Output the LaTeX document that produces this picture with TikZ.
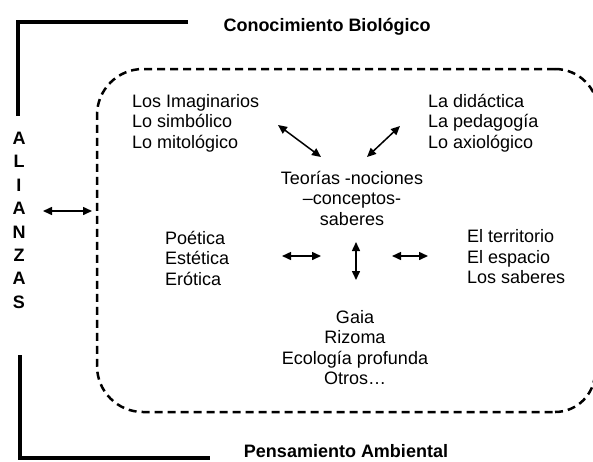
\documentclass[tikz,border=0pt]{standalone}
\usepackage{fontspec}
\setmainfont{Liberation Sans}
\usepackage{tikz}
\usetikzlibrary{arrows.meta, positioning}
\tikzstyle{arrow}    = [line width=1.5pt,{Triangle[length=9pt,width=8pt]}-{Triangle[length=9pt,width=8pt]}]
\tikzstyle{bracket}  = [line width=3.5pt]
\tikzstyle{boundary} = [line width=2.5pt,dash pattern=on 8pt off 5pt]
\tikzstyle{block}    = [inner sep=0pt,font=\fontsize{18}{20.5}\selectfont]
\tikzstyle{group}    = [block,align=left,anchor=west]
\tikzstyle{heading}  = [inner sep=0pt,anchor=base,font=\fontsize{18}{20.5}\selectfont\bfseries]
\tikzset{every node/.style={align=center}}

\begin{document}
\begin{tikzpicture}[x=1pt, y=-1pt]
  \useasboundingbox (0,0) rectangle (593,461);
  % Frame
  \draw[bracket] (188,22) -- (18,22) -- (18,116);
  \draw[bracket] (20,355) -- (20,458) -- (210,458);
  \node[heading] (bio) at (327,31.5) {Conocimiento Biológico};
  \node[heading] (amb) at (346,457) {Pensamiento Ambiental};
  % Side label
  \foreach \l [count=\i from 0] in {A,L,I,A,N,Z,A,S}
      \node[heading] (al\i) at (19,144.5+23.4*\i) {\l};
  % Dashed boundary (right side runs off the page)
  \clip (0,0) rectangle (593,461);
  \draw[boundary,rounded corners=46pt] (555,69) -- (97,69) -- (97,412) -- (555,412);
  \draw[boundary] (555,69) arc[start angle=90,end angle=0,radius=43pt];
  \draw[boundary] (555,412) arc[start angle=-90,end angle=0,radius=40pt];
  % Groups
  \node[group] (mitos) at (132,123) {Los Imaginarios\\Lo simbólico\\Lo mitológico};
  \node[group] (didac) at (428,123) {La didáctica\\La pedagogía\\Lo axiológico};
  \node[block] (teorias) at (352,198) {Teorías -nociones\\–conceptos-\\saberes};
  \node[group] (poet) at (165,258) {Poética\\Estética\\Erótica};
  \node[group] (terr) at (467,257) {El territorio\\El espacio\\Los saberes};
  \node[block] (gaia) at (355,347.5) {Gaia\\Rizoma\\Ecología profunda\\Otros…};
  % Arrow ends
  \coordinate (sideA) at (43,211);  \coordinate (sideB) at (92,211);
  \coordinate (nwA) at (278,125);   \coordinate (nwB) at (321,157);
  \coordinate (neA) at (367,157);   \coordinate (neB) at (400,126);
  \coordinate (wA) at (282,256);    \coordinate (wB) at (321,256);
  \coordinate (eA) at (392,256);    \coordinate (eB) at (428,256);
  \coordinate (sA) at (356,242);    \coordinate (sB) at (356,280);
  % Arrows
  \draw[arrow] (sideA) -- (sideB);
  \draw[arrow] (nwA) -- (nwB);
  \draw[arrow] (neA) -- (neB);
  \draw[arrow] (wA) -- (wB);
  \draw[arrow] (eA) -- (eB);
  \draw[arrow] (sA) -- (sB);
\end{tikzpicture}
\end{document}
